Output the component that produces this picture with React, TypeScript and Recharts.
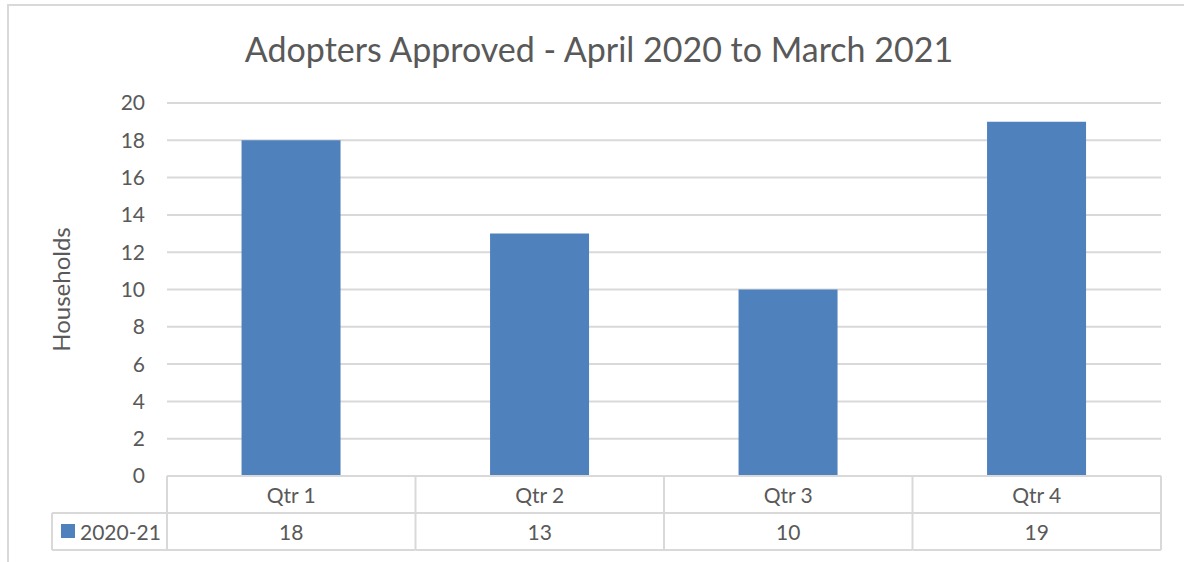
import React from 'react';
import { BarChart, Bar, XAxis, YAxis, CartesianGrid } from 'recharts';

const quarters = ['Qtr 1', 'Qtr 2', 'Qtr 3', 'Qtr 4'];
const households = [18, 13, 10, 19];
const seriesName = '2020-21';
const yTicks = [0, 2, 4, 6, 8, 10, 12, 14, 16, 18, 20];

const data = quarters.map((q, i) => ({ quarter: q, value: households[i] }));

const COLORS = {
  bar: '#4F81BD',
  text: '#595959',
  grid: '#D9D9D9',
};

const FONT = 'Lato, "Open Sans", sans-serif';
const W = 1184;
const H = 562;
const MARGIN = { top: 103, right: 23, bottom: 10, left: 0 };
const Y_WIDTH = 167;
const ROW_H = 37;
const LEGEND_W = 115;
const BAND = (W - MARGIN.left - MARGIN.right - Y_WIDTH) / quarters.length;

// category row + data row, drawn per tick so it follows the x scale
const TableTick = (props: any) => {
  const { x, y, payload, index } = props;
  const left = x - BAND / 2;
  const right = x + BAND / 2;
  const line = { stroke: COLORS.grid, strokeWidth: 2 };
  return (
    <g>
      <line x1={left} y1={y} x2={right} y2={y} {...line} />
      <line x1={left} y1={y + ROW_H} x2={right} y2={y + ROW_H} {...line} />
      <line x1={left} y1={y + ROW_H * 2} x2={right} y2={y + ROW_H * 2} {...line} />
      <line x1={left} y1={y} x2={left} y2={y + ROW_H * 2} {...line} />
      {index === quarters.length - 1 && (
        <line x1={right} y1={y} x2={right} y2={y + ROW_H * 2} {...line} />
      )}
      <text x={x} y={y + ROW_H / 2} textAnchor="middle" dominantBaseline="central"
        fill={COLORS.text} fontSize={21} fontFamily={FONT}>
        {payload.value}
      </text>
      <text x={x} y={y + ROW_H * 1.5} textAnchor="middle" dominantBaseline="central"
        fill={COLORS.text} fontSize={21} fontFamily={FONT}>
        {households[index]}
      </text>
      {index === 0 && (
        <g>
          <line x1={left - LEGEND_W} y1={y + ROW_H} x2={left} y2={y + ROW_H} {...line} />
          <line x1={left - LEGEND_W} y1={y + ROW_H * 2} x2={left} y2={y + ROW_H * 2} {...line} />
          <line x1={left - LEGEND_W} y1={y + ROW_H} x2={left - LEGEND_W} y2={y + ROW_H * 2} {...line} />
          <rect x={left - LEGEND_W + 9} y={y + ROW_H + 11} width={14} height={14} fill={COLORS.bar} />
          <text x={left - LEGEND_W + 28} y={y + ROW_H * 1.5} dominantBaseline="central"
            fill={COLORS.text} fontSize={21} fontFamily={FONT}>
            {seriesName}
          </text>
        </g>
      )}
    </g>
  );
};

const YLabel = (props: any) => {
  const vb = props.viewBox || {};
  const cy = (vb.y || 0) + (vb.height || 0) / 2;
  return (
    <text x={60} y={cy} transform={`rotate(-90, 60, ${cy})`} textAnchor="middle"
      dominantBaseline="central" fill={COLORS.text} fontSize={24} fontFamily={FONT}>
      Households
    </text>
  );
};

const App = () => {
  return (
    <div style={{ position: 'absolute', left: 0, top: 0, width: W, height: H, overflow: 'hidden', background: '#fff' }}>
      <div style={{ position: 'absolute', left: 7, top: 4, width: W + 20, height: H + 20,
        borderLeft: `2px solid ${COLORS.grid}`, borderTop: `2px solid ${COLORS.grid}` }} />
      <div style={{ position: 'absolute', left: 0, top: 29, width: 1198, textAlign: 'center',
        fontFamily: FONT, fontSize: 34, color: COLORS.text, lineHeight: '40px' }}>
        Adopters Approved - April 2020 to March 2021
      </div>
      <div style={{ position: 'absolute', left: 0, top: 0 }}>
        <BarChart width={W} height={H} data={data} margin={MARGIN} barCategoryGap="30%">
          <CartesianGrid vertical={false} stroke={COLORS.grid} strokeWidth={2} />
          <XAxis dataKey="quarter" height={76} interval={0} axisLine={false} tickLine={false}
            tickSize={0} tickMargin={0} tick={<TableTick />} />
          <YAxis width={Y_WIDTH} domain={[0, 20]} ticks={yTicks} axisLine={false} tickLine={false}
            tickSize={0} tickMargin={22} tick={{ fill: COLORS.text, fontSize: 21, fontFamily: FONT }}
            label={<YLabel />} />
          <Bar dataKey="value" fill={COLORS.bar} isAnimationActive={false} />
        </BarChart>
      </div>
    </div>
  );
};

export default App;
